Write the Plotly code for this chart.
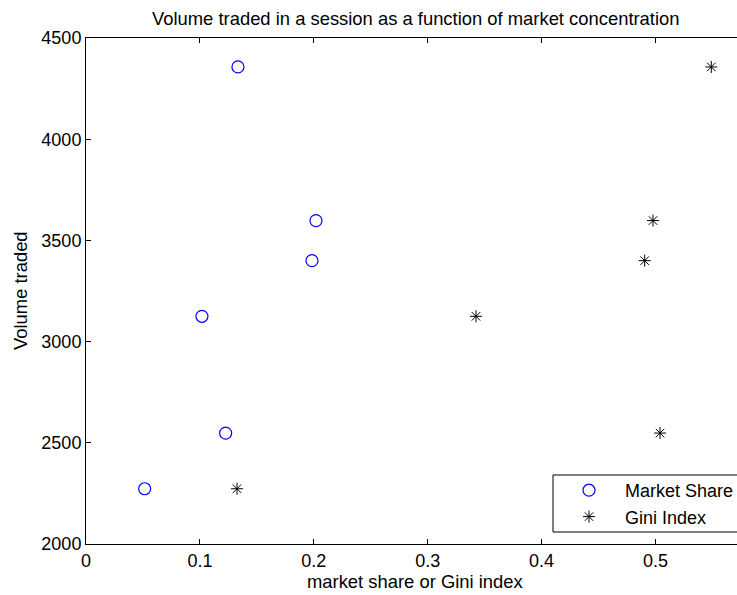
import plotly.graph_objects as go

volume = [4357, 3598, 3400, 3125, 2548, 2273]
market_share = [0.1334, 0.2019, 0.1984, 0.1018, 0.1226, 0.0515]
gini_index = [0.549, 0.4978, 0.4905, 0.3424, 0.504, 0.1326]

W, H = 737, 595
ML, MR, MT, MB = 86, 0, 38, 51
FONT = "Liberation Sans, Arial, Helvetica, sans-serif"

fig = go.Figure()
fig.add_trace(go.Scatter(
    x=market_share, y=volume, mode="markers", name="Market Share",
    marker=dict(symbol="circle-open", size=12, color="#0000ff",
                line=dict(width=1.2, color="#0000ff")),
))
fig.add_trace(go.Scatter(
    x=gini_index, y=volume, mode="markers", name="Gini Index",
    marker=dict(symbol="asterisk-open", size=10, color="black",
                line=dict(width=1, color="black")),
))

pw = W - ML - MR
ph = H - MT - MB

def px_x(p):
    return (p - ML) / pw

def px_y(p):
    return (H - MB - p) / ph

fig.update_layout(
    width=W, height=H,
    margin=dict(l=ML, r=MR, t=MT, b=MB, pad=0, autoexpand=False),
    paper_bgcolor="white", plot_bgcolor="white",
    font=dict(family=FONT, size=18, color="black"),
    showlegend=True,
    legend=dict(
        x=px_x(553), y=px_y(472), xanchor="left", yanchor="top",
        borderwidth=0, bgcolor="rgba(0,0,0,0)",
        font=dict(family=FONT, size=18, color="black"),
        itemwidth=62,
    ),
    shapes=[
        dict(type="rect", xref="paper", yref="paper",
             x0=px_x(553), x1=px_x(760), y0=px_y(532), y1=px_y(475),
             line=dict(color="black", width=1), fillcolor="white",
             layer="above"),
    ],
    xaxis=dict(
        range=[0, pw / 1139.0], tickvals=[0, 0.1, 0.2, 0.3, 0.4, 0.5],
        ticktext=["0", "0.1", "0.2", "0.3", "0.4", "0.5"],
        ticks="inside", ticklen=5, tickwidth=1, tickcolor="black",
        showline=True, linecolor="black", linewidth=1, mirror="ticks",
        showgrid=False, zeroline=False,
        tickfont=dict(family=FONT, size=18, color="black"),
    ),
    yaxis=dict(
        range=[2000, 4500], tickvals=[2000, 2500, 3000, 3500, 4000, 4500],
        ticks="inside", ticklen=5, tickwidth=1, tickcolor="black",
        showline=True, linecolor="black", linewidth=1, mirror=False,
        showgrid=False, zeroline=False,
        tickfont=dict(family=FONT, size=18, color="black"),
    ),
    annotations=[
        dict(text="Volume traded in a session as a function of market concentration",
             xref="paper", yref="paper", x=px_x(415.5), y=px_y(18),
             xanchor="center", yanchor="middle", showarrow=False,
             font=dict(family=FONT, size=18.4, color="black")),
        dict(text="market share or Gini index",
             xref="paper", yref="paper", x=px_x(415), y=px_y(581),
             xanchor="center", yanchor="middle", showarrow=False,
             font=dict(family=FONT, size=18.4, color="black")),
        dict(text="Volume traded", textangle=-90,
             xref="paper", yref="paper", x=px_x(20), y=px_y(291),
             xanchor="center", yanchor="middle", showarrow=False,
             font=dict(family=FONT, size=18.4, color="black")),
    ],
)

fig.write_html("out.html")
